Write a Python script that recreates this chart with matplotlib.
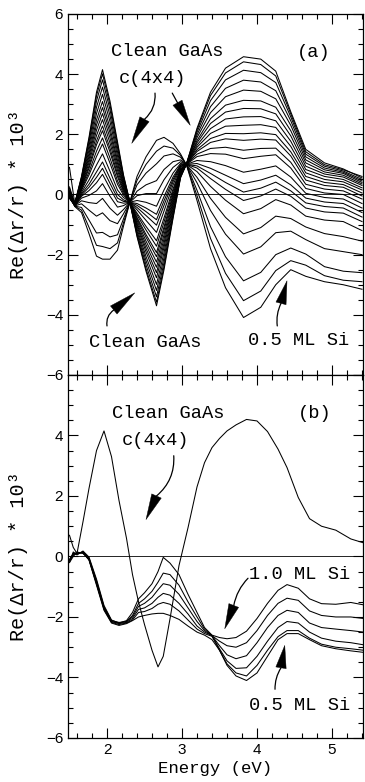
import numpy as np
import matplotlib
matplotlib.use("Agg")
import matplotlib.pyplot as plt
from matplotlib.ticker import MultipleLocator, FuncFormatter

# -------- DATA --------
# panel (a): energies (eV) at which the curve family was read
A_ENERGY = [1.50, 1.57, 1.66, 1.76, 1.86, 1.94, 2.04, 2.14, 2.22, 2.30,
            2.40, 2.52, 2.66, 2.76, 2.88, 2.98, 3.06, 3.20, 3.38, 3.58,
            3.82, 4.05, 4.25, 4.45, 4.65, 4.90, 5.15, 5.40]

# one row per energy: the 23 curves, clean GaAs c(4x4) first ... 0.5 ML Si last
A_FAMILY = [
    [.90, .25, .20, .15, .12, .10, .08, .05, .03, .00, -.02, -.04, -.06, -.08, -.10, -.10, -.12, -.12, -.12, -.10, -.05, .00, .10],
    [-.30, -.30, -.31, -.31, -.31, -.32, -.32, -.32, -.33, -.33, -.33, -.34, -.34, -.34, -.35, -.35, -.36, -.36, -.37, -.38, -.39, -.39, -.40],
    [.60, .57, .54, .49, .44, .40, .36, .32, .28, .24, .21, .17, .13, .07, .02, -.02, -.06, -.12, -.21, -.31, -.43, -.52, -.60],
    [1.90, 1.83, 1.73, 1.61, 1.48, 1.36, 1.26, 1.16, 1.06, .95, .87, .75, .65, .48, .34, .24, .13, -.03, -.27, -.52, -.85, -1.09, -1.30],
    [3.40, 3.28, 3.11, 2.90, 2.69, 2.48, 2.31, 2.14, 1.96, 1.78, 1.65, 1.44, 1.26, .98, .75, .57, .39, .12, -.30, -.72, -1.28, -1.69, -2.05],
    [4.15, 4.01, 3.81, 3.57, 3.33, 3.09, 2.89, 2.69, 2.49, 2.28, 2.12, 1.88, 1.68, 1.35, 1.08, .87, .67, .36, -.13, -.61, -1.26, -1.73, -2.15],
    [3.10, 2.98, 2.82, 2.62, 2.42, 2.21, 2.05, 1.88, 1.71, 1.54, 1.41, 1.21, 1.04, .77, .54, .37, .20, -.06, -.46, -.87, -1.41, -1.80, -2.15],
    [1.75, 1.67, 1.56, 1.42, 1.28, 1.14, 1.03, .91, .80, .68, .59, .45, .34, .15, .00, -.12, -.24, -.42, -.69, -.97, -1.34, -1.61, -1.85],
    [.65, .61, .56, .49, .43, .36, .31, .26, .20, .15, .10, .04, -.02, -.10, -.18, -.23, -.29, -.37, -.50, -.64, -.81, -.94, -1.05],
    [-.20, -.20, -.21, -.21, -.21, -.22, -.22, -.22, -.23, -.23, -.23, -.24, -.24, -.24, -.25, -.25, -.26, -.26, -.27, -.28, -.29, -.29, -.30],
    [-1.40, -1.36, -1.29, -1.22, -1.14, -1.06, -1.00, -.94, -.87, -.81, -.76, -.68, -.62, -.51, -.43, -.36, -.30, -.20, -.04, .11, .32, .47, .60],
    [-2.55, -2.47, -2.34, -2.20, -2.06, -1.91, -1.79, -1.67, -1.55, -1.42, -1.33, -1.18, -1.06, -.86, -.70, -.57, -.45, -.26, .03, .32, .71, 1.00, 1.25],
    [-3.70, -3.58, -3.40, -3.19, -2.99, -2.77, -2.60, -2.42, -2.25, -2.07, -1.93, -1.72, -1.54, -1.26, -1.02, -.84, -.66, -.39, .03, .46, 1.02, 1.44, 1.80],
    [-2.50, -2.40, -2.26, -2.10, -1.93, -1.76, -1.62, -1.48, -1.34, -1.19, -1.08, -.92, -.78, -.55, -.36, -.21, -.07, .15, .49, .83, 1.28, 1.61, 1.90],
    [-.80, -.75, -.67, -.57, -.48, -.38, -.30, -.22, -.14, -.06, .01, .10, .18, .31, .42, .50, .58, .71, .90, 1.09, 1.35, 1.54, 1.70],
    [.55, .57, .59, .62, .65, .69, .71, .74, .76, .79, .81, .84, .86, .91, .94, .97, .99, 1.03, 1.09, 1.15, 1.24, 1.30, 1.35],
    [1.02, 1.02, 1.02, 1.02, 1.01, 1.01, 1.01, 1.01, 1.01, 1.01, 1.01, 1.01, 1.00, 1.00, 1.00, 1.00, 1.00, 1.00, .99, .99, .99, .98, .98],
    [2.20, 2.15, 2.07, 1.98, 1.89, 1.79, 1.72, 1.64, 1.57, 1.49, 1.43, 1.34, 1.26, 1.13, 1.03, .95, .88, .76, .57, .39, .14, -.04, -.20],
    [3.40, 3.29, 3.12, 2.92, 2.72, 2.52, 2.36, 2.19, 2.03, 1.86, 1.73, 1.53, 1.36, 1.09, .87, .70, .53, .27, -.13, -.53, -1.07, -1.46, -1.80],
    [4.20, 4.04, 3.81, 3.53, 3.25, 2.97, 2.74, 2.51, 2.27, 2.03, 1.85, 1.57, 1.34, .96, .64, .40, .17, -.19, -.76, -1.32, -2.07, -2.62, -3.10],
    [4.58, 4.41, 4.13, 3.80, 3.47, 3.13, 2.86, 2.58, 2.30, 2.02, 1.80, 1.47, 1.19, .74, .36, .08, -.20, -.64, -1.31, -1.98, -2.87, -3.53, -4.09],
    [4.50, 4.32, 4.05, 3.74, 3.43, 3.11, 2.85, 2.59, 2.32, 2.05, 1.84, 1.53, 1.27, .84, .48, .21, -.05, -.47, -1.10, -1.74, -2.59, -3.21, -3.75],
    [4.10, 3.94, 3.72, 3.45, 3.18, 2.90, 2.68, 2.45, 2.23, 1.99, 1.81, 1.54, 1.32, .95, .64, .41, .18, -.17, -.72, -1.27, -2.00, -2.53, -3.00],
    [2.75, 2.68, 2.58, 2.45, 2.30, 2.12, 1.95, 1.77, 1.60, 1.42, 1.28, 1.07, .88, .58, .32, .12, -.06, -.35, -.80, -1.22, -1.78, -2.20, -2.50],
    [1.50, 1.42, 1.34, 1.25, 1.15, 1.05, .94, .83, .72, .60, .48, .34, .20, .04, -.12, -.28, -.45, -.72, -1.08, -1.50, -1.98, -2.35, -2.72],
    [1.05, .99, .94, .88, .82, .75, .68, .60, .50, .40, .30, .18, .05, -.10, -.25, -.40, -.58, -.85, -1.30, -1.80, -2.40, -2.70, -2.90],
    [.85, .82, .78, .74, .70, .64, .58, .50, .42, .33, .24, .12, .00, -.15, -.30, -.45, -.62, -.90, -1.40, -1.90, -2.55, -2.85, -3.00],
    [.55, .60, .50, .45, .40, .35, .30, .22, .15, .05, -.05, -.15, -.30, -.45, -.60, -.75, -.90, -1.20, -1.55, -2.00, -2.60, -2.90, -3.15],
]

# panel (b)
B_ENERGY = [1.50, 1.55, 1.60, 1.68, 1.76, 1.86, 1.96, 2.06, 2.16, 2.26,
            2.34, 2.42, 2.50, 2.60, 2.68, 2.75, 2.84, 2.96, 3.08, 3.20,
            3.30, 3.40, 3.50, 3.60, 3.72, 3.86, 4.00, 4.14, 4.28, 4.40,
            4.55, 4.70, 4.86, 5.05, 5.25, 5.42]
B_CLEAN = [.70, .30, .10, 1.15, 2.25, 3.50, 4.15, 3.30, 1.85, .60,
           -.60, -1.50, -2.25, -3.10, -3.65, -3.30, -2.06, -.30, .95, 2.30,
           3.10, 3.60, 3.90, 4.15, 4.35, 4.53, 4.48, 4.13, 3.55, 2.94,
           1.95, 1.25, 1.00, .87, .58, .45]
B_SI_10 = [-.20, .15, .05, .18, -.02, -.75, -1.62, -2.10, -2.20, -2.12,
           -1.85, -1.40, -1.20, -.90, -.50, -.03, -.22, -.60, -1.25, -1.85,
           -2.35, -2.60, -2.68, -2.72, -2.68, -2.47, -2.05, -1.55, -1.12, -.93,
           -1.05, -1.40, -1.56, -1.58, -1.52, -1.60]
B_SI_09 = [-.10, .05, .10, .15, -.05, -.80, -1.66, -2.12, -2.18, -2.15,
           -1.95, -1.55, -1.40, -1.15, -.85, -.55, -.60, -.95, -1.50, -2.00,
           -2.40, -2.62, -2.80, -2.95, -3.00, -2.85, -2.45, -1.95, -1.55, -1.38,
           -1.45, -1.80, -1.95, -2.00, -2.00, -2.05]
B_SI_08 = [-.15, .10, .12, .12, -.08, -.85, -1.70, -2.15, -2.20, -2.15,
           -2.00, -1.65, -1.55, -1.35, -1.10, -.90, -.95, -1.25, -1.70, -2.15,
           -2.45, -2.62, -2.95, -3.25, -3.38, -3.28, -2.85, -2.35, -1.95, -1.78,
           -1.85, -2.20, -2.35, -2.40, -2.45, -2.50]
B_SI_07 = [-.20, .00, .15, .10, -.10, -.90, -1.72, -2.15, -2.22, -2.18,
           -2.05, -1.75, -1.70, -1.55, -1.35, -1.22, -1.28, -1.55, -1.90, -2.30,
           -2.50, -2.62, -3.05, -3.45, -3.70, -3.68, -3.30, -2.80, -2.35, -2.15,
           -2.20, -2.50, -2.70, -2.80, -2.85, -2.92]
B_SI_06 = [-.10, .10, .08, .15, -.10, -.90, -1.75, -2.18, -2.25, -2.20,
           -2.10, -1.85, -1.82, -1.72, -1.58, -1.52, -1.58, -1.80, -2.10, -2.40,
           -2.55, -2.64, -3.10, -3.55, -3.85, -3.95, -3.60, -3.10, -2.65, -2.45,
           -2.45, -2.70, -2.90, -3.00, -3.05, -3.10]
B_SI_05 = [-.15, .05, .12, .12, -.12, -.95, -1.78, -2.20, -2.28, -2.22,
           -2.12, -2.00, -1.95, -1.90, -1.88, -1.88, -1.95, -2.08, -2.30, -2.50,
           -2.60, -2.75, -3.10, -3.60, -3.95, -4.10, -3.85, -3.30, -2.75, -2.55,
           -2.55, -2.75, -2.95, -3.05, -3.12, -3.17]

Y_TICKS = [-6, -4, -2, 0, 2, 4, 6]
X_TICKS = [2, 3, 4, 5]

MONO = ["Liberation Mono", "DejaVu Sans Mono"]
SANS = ["Liberation Sans", "DejaVu Sans"]
LW = 0.75

plt.rcParams["font.family"] = SANS

fig = plt.figure(figsize=(3.65, 7.82), dpi=100)
ax_a = fig.add_axes([0.1863, 0.5205, 0.8082, 0.4616])
ax_b = fig.add_axes([0.1863, 0.0563, 0.8082, 0.4642])


def style_axes(ax, hide_top_label=False):
    ax.set_xlim(1.48, 5.413)
    ax.set_ylim(-6, 6)
    ax.set_yticks(Y_TICKS)
    ax.set_xticks(X_TICKS)
    ax.xaxis.set_minor_locator(MultipleLocator(0.2))
    ax.yaxis.set_minor_locator(MultipleLocator(0.5))
    ax.tick_params(which="both", direction="in", top=True, right=True,
                   width=0.8, labelsize=11)
    ax.tick_params(which="major", length=7)
    ax.tick_params(which="minor", length=3.5)
    for sp in ax.spines.values():
        sp.set_linewidth(0.9)
    if hide_top_label:
        ax.yaxis.set_major_formatter(FuncFormatter(
            lambda v, p: "" if v > 5 else f"{v:.0f}".replace("-", "\u2212")))
    ax.axhline(0, color="k", lw=0.6)
    ax.set_ylabel("Re(\u0394r/r) * 10\u00b3", family=MONO, fontsize=14.5)
    ax.yaxis.set_label_coords(-0.135, 0.5)


def arrow(ax, start, base, tip, rad):
    # curved shaft, then a long narrow filled dart as the head
    ax.annotate("", xy=base, xytext=start,
                arrowprops=dict(arrowstyle="-", connectionstyle=f"arc3,rad={rad}",
                                color="k", lw=0.9, shrinkA=0, shrinkB=0))
    ax.annotate("", xy=tip, xytext=base,
                arrowprops=dict(arrowstyle="wedge,tail_width=0.75,shrink_factor=0.5",
                                color="k", lw=0.3, shrinkA=0, shrinkB=0,
                                mutation_scale=10))


def label(ax, x, y, s):
    ax.text(x, y, s, ha="center", va="center", family=MONO, fontsize=13.5)


# -------- panel (a) --------
fam = np.array(A_FAMILY).T
for curve in fam:
    ax_a.plot(A_ENERGY, curve, color="k", lw=LW)
style_axes(ax_a)
ax_a.tick_params(labelbottom=False)

label(ax_a, 2.80, 4.75, "Clean GaAs")
label(ax_a, 2.61, 3.87, "c(4x4)")
label(ax_a, 4.75, 4.72, "(a)")
label(ax_a, 2.51, -4.93, "Clean GaAs")
label(ax_a, 4.55, -4.87, "0.5 ML Si")
arrow(ax_a, (2.64, 3.37), (2.50, 2.50), (2.33, 1.70), -0.25)
arrow(ax_a, (2.87, 3.37), (2.94, 3.05), (3.11, 2.30), 0.0)
arrow(ax_a, (2.00, -4.37), (2.09, -3.84), (2.37, -3.27), -0.3)
arrow(ax_a, (4.27, -4.37), (4.32, -3.62), (4.40, -2.87), -0.15)

# -------- panel (b) --------
ax_b.plot(B_ENERGY, B_CLEAN, color="k", lw=LW)
for curve in (B_SI_10, B_SI_09, B_SI_08, B_SI_07, B_SI_06, B_SI_05):
    ax_b.plot(B_ENERGY, curve, color="k", lw=LW)
style_axes(ax_b, hide_top_label=True)
ax_b.set_xlabel("Energy (eV)", family=MONO, fontsize=12.5)
ax_b.xaxis.set_label_coords(0.5, -0.063)

label(ax_b, 2.82, 4.72, "Clean GaAs")
label(ax_b, 2.64, 3.83, "c(4x4)")
label(ax_b, 4.77, 4.72, "(b)")
label(ax_b, 4.57, -0.61, "1.0 ML Si")
label(ax_b, 4.57, -4.94, "0.5 ML Si")
arrow(ax_b, (2.89, 3.33), (2.66, 2.00), (2.52, 1.22), -0.25)
arrow(ax_b, (3.88, -0.72), (3.69, -1.62), (3.57, -2.39), 0.15)
arrow(ax_b, (4.24, -4.39), (4.32, -3.68), (4.37, -2.94), -0.15)

fig.savefig("out.png", dpi=100)
